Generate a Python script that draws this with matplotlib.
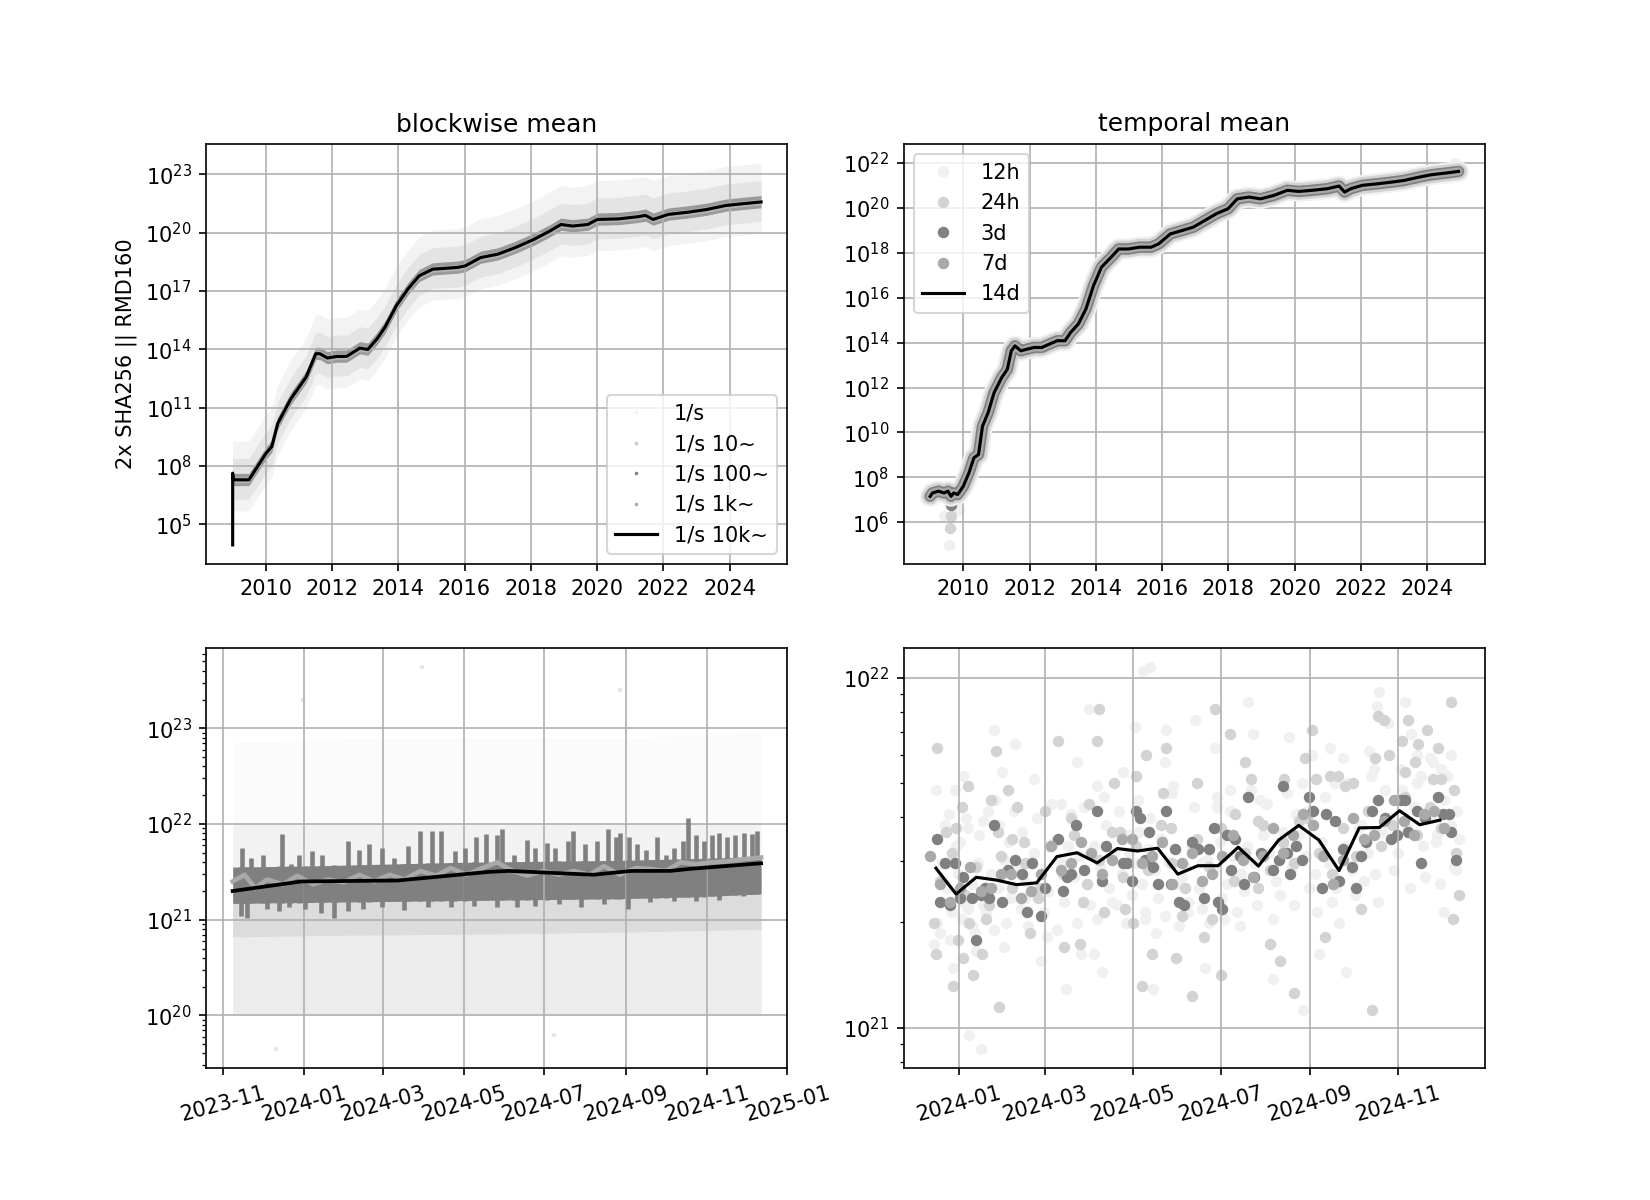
import numpy as np
import pandas as pd
import matplotlib
matplotlib.use('Agg')
import matplotlib.pyplot as plt
from matplotlib.lines import Line2D
from datetime import datetime, timedelta

# ---- top left: blockwise mean, 1/s 10k~ track (decimal year, log10 value)
tl_year = [2009.0, 2009.0, 2009.02, 2009.49, 2010.01, 2010.18, 2010.36, 2010.76, 2011.22, 2011.51,
           2011.63, 2011.86, 2012.15, 2012.44, 2012.84, 2013.08, 2013.36, 2013.6, 2013.94, 2014.29,
           2014.63, 2015.04, 2015.79, 2016.02, 2016.49, 2017.0, 2017.53, 2018.1, 2018.57, 2018.91,
           2019.26, 2019.72, 2020.01, 2020.65, 2021.23, 2021.46, 2021.69, 2022.15, 2022.73, 2023.3,
           2023.89, 2024.46, 2024.95]
tl_exp = [3.93, 7.62, 7.28, 7.28, 8.65, 8.99, 10.18, 11.46, 12.57, 13.77,
          13.77, 13.55, 13.63, 13.63, 14.06, 13.99, 14.54, 15.14, 16.24, 17.1,
          17.78, 18.12, 18.21, 18.29, 18.72, 18.89, 19.23, 19.66, 20.08, 20.42,
          20.34, 20.42, 20.68, 20.71, 20.82, 20.89, 20.68, 20.94, 21.05, 21.19,
          21.4, 21.5, 21.58]
# spread of the finer windows around the track (decades below, above)
tl_spread_1s = [1.6, 2.0]
tl_spread_10 = [1.0, 1.1]
tl_spread_100 = [0.3, 0.33]
tl_spread_1k = [0.15, 0.15]

# ---- top right: temporal mean, 14d track
tr_year = [2009.0, 2009.07, 2009.25, 2009.42, 2009.54, 2009.63, 2009.71, 2009.83, 2010.0, 2010.17,
           2010.32, 2010.46, 2010.58, 2010.75, 2010.93, 2011.16, 2011.33, 2011.45, 2011.56, 2011.74,
           2011.91, 2012.14, 2012.37, 2012.6, 2012.84, 2013.07, 2013.24, 2013.47, 2013.7, 2013.93,
           2014.17, 2014.46, 2014.69, 2014.98, 2015.32, 2015.67, 2015.9, 2016.25, 2016.6, 2016.94,
           2017.29, 2017.64, 2017.99, 2018.27, 2018.62, 2018.97, 2019.37, 2019.78, 2020.13, 2020.53,
           2020.99, 2021.34, 2021.51, 2021.69, 2022.04, 2022.5, 2022.96, 2023.31, 2023.77, 2024.12,
           2024.58, 2024.95]
tr_exp = [7.16, 7.31, 7.39, 7.31, 7.39, 7.16, 7.31, 7.24, 7.61, 8.2,
          8.87, 9.02, 10.28, 10.88, 11.77, 12.44, 12.81, 13.63, 13.85, 13.63,
          13.7, 13.78, 13.78, 13.93, 14.08, 14.08, 14.45, 14.82, 15.49, 16.53,
          17.35, 17.79, 18.16, 18.16, 18.24, 18.24, 18.39, 18.83, 18.98, 19.13,
          19.43, 19.73, 19.95, 20.39, 20.47, 20.39, 20.54, 20.77, 20.72, 20.77,
          20.84, 20.96, 20.69, 20.84, 20.99, 21.06, 21.14, 21.21, 21.36, 21.46,
          21.54, 21.61]
# single dots that leave the band
tr_12h_out_year = [2009.57, 2009.42, 2009.88, 2024.85]
tr_12h_out_exp = [5.0, 6.27, 6.57, 21.98]
tr_24h_out_year = [2009.59, 2009.63]
tr_24h_out_exp = [5.75, 6.27]
tr_3d_out_year = [2009.63]
tr_3d_out_exp = [6.79]

# ---- bottom left: blockwise, last year (days after 2023-11-01)
bl_10k_day = [7, 59, 132, 201, 216, 280, 309, 338, 352, 407]
bl_10k_exp = [21.30, 21.40, 21.41, 21.50, 21.51, 21.47, 21.51, 21.51, 21.53, 21.59]
bl_1k_day = [7, 16, 24, 33, 45, 56, 68, 79, 91, 103, 114, 126, 137, 149, 161, 172, 184, 196,
             207, 219, 230, 242, 254, 265, 277, 288, 300, 312, 323, 335, 346, 358, 370, 381, 393, 407]
bl_1k_exp = [21.40, 21.47, 21.33, 21.42, 21.37, 21.46, 21.37, 21.42, 21.39, 21.47, 21.40, 21.47,
             21.42, 21.51, 21.46, 21.54, 21.47, 21.54, 21.60, 21.51, 21.46, 21.51, 21.47, 21.51,
             21.47, 21.56, 21.47, 21.54, 21.53, 21.51, 21.60, 21.58, 21.60, 21.61, 21.63, 21.65]
# core of the 1/s 100~ band
bl_100_day = [7, 60, 120, 180, 240, 300, 360, 407]
bl_100_lo = [21.17, 21.18, 21.19, 21.20, 21.21, 21.22, 21.24, 21.27]
bl_100_hi = [21.55, 21.56, 21.58, 21.60, 21.61, 21.62, 21.64, 21.66]
# upward spikes of 1/s 100~
bl_spike_day = [14, 21, 30, 44, 51, 57, 67, 75, 85, 94, 103, 110, 120, 129, 140, 149, 158, 165,
                175, 183, 191, 199, 207, 211, 220, 230, 236, 245, 251, 261, 265, 274, 283, 291,
                297, 300, 307, 313, 320, 328, 335, 341, 348, 352, 358, 364, 370, 375, 381, 387,
                394, 400, 404]
bl_spike_exp = [21.75, 21.65, 21.68, 21.90, 21.58, 21.68, 21.72, 21.68, 21.54, 21.82, 21.73, 21.79,
                21.75, 21.65, 21.77, 21.93, 21.93, 21.93, 21.72, 21.75, 21.86, 21.90, 21.89, 21.95,
                21.68, 21.83, 21.75, 21.80, 21.75, 21.82, 21.93, 21.79, 21.82, 21.95, 21.86, 21.91,
                21.86, 21.79, 21.73, 21.86, 21.68, 21.75, 21.82, 22.06, 21.89, 21.82, 21.89, 21.91,
                21.86, 21.89, 21.91, 21.90, 21.93]
# downward spikes of 1/s 100~
bl_dip_day = [13, 18, 33, 42, 50, 62, 74, 84, 94, 106, 120, 137, 155, 172, 190, 207, 222, 236,
              254, 271, 288, 306, 323, 341, 358, 375, 393]
bl_dip_exp = [21.04, 21.02, 21.11, 21.09, 21.13, 21.11, 21.07, 21.02, 21.09, 21.11, 21.13, 21.10,
              21.13, 21.13, 21.14, 21.13, 21.13, 21.14, 21.16, 21.13, 21.16, 21.11, 21.18, 21.20,
              21.20, 21.21, 21.25]
# 1/s and 1/s 10~ clouds (lower, upper edge)
bl_cloud_day = [7, 100, 200, 300, 407]
bl_1s_lo = [20.0, 20.0, 20.0, 20.0, 20.0]
bl_1s_mid = [21.3, 21.32, 21.35, 21.38, 21.42]
bl_1s_hi = [22.0, 22.0, 22.0, 22.0, 22.0]
bl_1s_sparse_hi = [22.85, 22.9, 22.9, 22.9, 22.95]
bl_10_lo = [20.82, 20.84, 20.85, 20.87, 20.9]
bl_10_hi = [21.4, 21.42, 21.45, 21.48, 21.52]
bl_out_day = [150, 60, 300, 40, 250]
bl_out_exp = [23.64, 23.3, 23.4, 19.65, 19.8]

# ---- bottom right: temporal, last year (days after 2024-01-01)
br_14d_day = [-16, -2, 12, 26, 40, 54, 68, 82, 96, 110, 124, 138, 152, 166, 180, 194, 208,
              222, 236, 250, 264, 278, 292, 306, 320, 334]
br_14d_exp = [21.456, 21.382, 21.430, 21.422, 21.409, 21.414, 21.489, 21.500, 21.471, 21.512,
              21.505, 21.513, 21.439, 21.463, 21.463, 21.516, 21.462, 21.536, 21.578, 21.536,
              21.449, 21.571, 21.572, 21.620, 21.580, 21.593]
br_7d_day = [-20, -13, -6, 1, 8, 15, 22, 29, 36, 43, 50, 57, 64, 71, 78, 85, 92, 99, 106, 113,
             120, 127, 134, 141, 148, 155, 162, 169, 176, 183, 190, 197, 204, 211, 218, 225, 232,
             239, 246, 253, 260, 267, 274, 281, 288, 295, 302, 309, 316, 323, 330, 337]
br_7d_exp = [21.49, 21.41, 21.36, 21.40, 21.46, 21.39, 21.40, 21.44, 21.44, 21.37, 21.39, 21.44,
             21.52, 21.45, 21.47, 21.53, 21.50, 21.44, 21.48, 21.54, 21.54, 21.47, 21.49, 21.53,
             21.41, 21.47, 21.50, 21.42, 21.44, 21.49, 21.55, 21.48, 21.43, 21.49, 21.57, 21.50,
             21.55, 21.61, 21.58, 21.49, 21.41, 21.48, 21.60, 21.54, 21.55, 21.59, 21.65, 21.59,
             21.55, 21.61, 21.62, 21.57]
br_3d_day = [-15, -10, -13, -6, -3, 1, 3, 9, 12, 15, 18, 21, 24, 30, 34, 39, 44, 47, 51, 57,
             60, 69, 72, 75, 78, 81, 87, 96, 99, 102, 114, 117, 120, 123, 126, 129, 132, 135,
             138, 144, 147, 150, 153, 156, 162, 166, 170, 174, 177, 180, 183, 186, 189, 192, 195,
             198, 201, 205, 210, 218, 222, 225, 228, 230, 234, 238, 243, 246, 252, 255, 261, 264,
             267, 273, 276, 279, 283, 287, 291, 296, 300, 304, 307, 310, 312, 318, 321, 324, 333,
             336, 340, 342, 345]
br_3d_exp = [21.54, 21.47, 21.36, 21.35, 21.47, 21.37, 21.43, 21.37, 21.25, 21.38, 21.40, 21.37,
             21.58, 21.36, 21.45, 21.48, 21.44, 21.33, 21.47, 21.32, 21.40, 21.54, 21.39, 21.43,
             21.44, 21.58, 21.45, 21.62, 21.42, 21.52, 21.47, 21.47, 21.42, 21.62, 21.60, 21.48,
             21.56, 21.46, 21.41, 21.62, 21.41, 21.51, 21.36, 21.35, 21.53, 21.51, 21.37, 21.51,
             21.57, 21.36, 21.34, 21.55, 21.45, 21.54, 21.49, 21.41, 21.66, 21.43, 21.50, 21.45,
             21.48, 21.69, 21.50, 21.44, 21.52, 21.48, 21.66, 21.62, 21.40, 21.61, 21.59, 21.42,
             21.51, 21.46, 21.40, 21.49, 21.53, 21.62, 21.65, 21.60, 21.54, 21.55, 21.65, 21.65,
             21.56, 21.62, 21.47, 21.60, 21.66, 21.61, 21.61, 21.56, 21.48]
br_24h_day = [-15, -17, -16, -9, -4, -2, 2, 6, 3, -1, 7, 10, 16, 19, 22, 26, 27, 28, 34, 37,
              40, 45, 49, 56, 60, 69, 73, 78, 84, 86, 90, 96, 97, 101, 108, 112, 115, 121, 123,
              127, 130, 134, 142, 144, 147, 151, 155, 162, 165, 170, 176, 178, 182, 188, 192, 199,
              203, 208, 211, 216, 223, 226, 233, 236, 240, 245, 248, 254, 258, 263, 268, 274, 279,
              287, 289, 291, 295, 299, 308, 310, 312, 317, 319, 325, 329, 333, 335, 342, 343, 347,
              345]
br_24h_exp = [21.80, 21.30, 21.21, 21.56, 21.12, 21.57, 21.63, 21.69, 21.20, 21.25, 21.30, 21.15,
              21.21, 21.31, 21.65, 21.79, 21.56, 21.06, 21.68, 21.54, 21.63, 21.53, 21.27, 21.40,
              21.62, 21.82, 21.23, 21.60, 21.24, 21.36, 21.64, 21.82, 21.91, 21.33, 21.70, 21.56,
              21.34, 21.30, 21.72, 21.12, 21.78, 21.21, 21.67, 21.80, 21.57, 21.20, 21.32, 21.09,
              21.70, 21.26, 21.31, 21.91, 21.15, 21.84, 21.61, 21.76, 21.71, 21.40, 21.58, 21.24,
              21.19, 21.71, 21.10, 21.59, 21.77, 21.85, 21.71, 21.26, 21.72, 21.72, 21.69, 21.70,
              21.34, 21.05, 21.77, 21.89, 21.88, 21.78, 21.82, 21.73, 21.88, 21.76, 21.81, 21.85,
              21.71, 21.80, 21.71, 21.93, 21.31, 21.38, 21.50]
br_24h_mid_day = [-13, -5, 4, 12, 21, 29, 37, 46, 55, 63, 72, 80, 89, 97, 106, 114, 123, 131,
                  140, 148, 157, 165, 174, 182, 191, 199, 208, 216, 225, 233, 242, 250, 259, 267,
                  276, 284, 293, 301, 310, 318, 327, 335, 344]
br_24h_mid_exp = [21.42, 21.50, 21.38, 21.46, 21.35, 21.49, 21.40, 21.47, 21.37, 21.52, 21.44,
                  21.55, 21.41, 21.48, 21.56, 21.43, 21.52, 21.45, 21.58, 21.47, 21.40, 21.54,
                  21.46, 21.57, 21.42, 21.50, 21.59, 21.45, 21.53, 21.47, 21.60, 21.50, 21.44,
                  21.57, 21.49, 21.62, 21.52, 21.58, 21.66, 21.55, 21.63, 21.57, 21.68]
br_12h_day = [-16, -17, -13, -7, -3, 3, 1, 6, -4, 6, 9, 12, 17, 20, 24, 25, 30, 31, 35, 39,
              44, 46, 52, 57, 61, 71, 74, 82, 85, 90, 94, 96, 99, 102, 110, 114, 118, 122, 125,
              129, 135, 137, 143, 144, 149, 155, 159, 164, 169, 171, 178, 179, 184, 188, 195, 201,
              204, 209, 214, 218, 225, 229, 234, 239, 242, 245, 250, 258, 261, 267, 269, 278, 285,
              288, 290, 292, 298, 303, 308, 310, 314, 318, 321, 327, 331, 335, 337, 342, 345, 347,
              128, 133, 7, 15]
br_12h_exp = [21.68, 21.24, 21.27, 21.61, 21.68, 21.72, 21.53, 21.57, 21.17, 21.34, 21.29, 21.22,
              21.59, 21.62, 21.85, 21.65, 21.73, 21.23, 21.53, 21.81, 21.56, 21.37, 21.71, 21.19,
              21.26, 21.64, 21.11, 21.76, 21.21, 21.91, 21.21, 21.69, 21.16, 21.58, 21.35, 21.73,
              21.50, 21.86, 21.56, 21.31, 21.11, 21.27, 21.76, 21.85, 21.69, 21.43, 21.33, 21.88,
              21.47, 21.17, 21.80, 21.63, 21.31, 21.68, 21.29, 21.93, 21.84, 21.65, 21.64, 21.14,
              21.56, 21.83, 21.61, 21.05, 21.62, 21.78, 21.21, 21.80, 21.70, 21.77, 21.16, 21.57,
              21.79, 21.74, 21.92, 21.96, 21.87, 21.65, 21.68, 21.93, 21.84, 21.78, 21.72, 21.77,
              21.53, 21.74, 21.33, 21.78, 21.45, 21.54, 22.02, 22.03, 20.98, 20.94]
# 12h dots sitting in the middle of the cloud
br_12h_mid_day = [-12, -8, -5, -1, 3, 9, 13, 17, 22, 27, 31, 36, 41, 46, 52, 57, 62, 66, 71, 76,
                  80, 84, 89, 94, 98, 104, 108, 113, 118, 122, 127, 131, 136, 140, 146, 151, 157,
                  161, 167, 172, 177, 181, 186, 190, 196, 200, 205, 211, 215, 220, 226, 231, 236,
                  241, 247, 252, 257, 262, 268, 273, 279, 284, 289, 294, 300, 305, 311, 316, 322,
                  327, 332, 337, 342, 346]
br_12h_mid_exp = [21.47, 21.40, 21.33, 21.44, 21.36, 21.41, 21.47, 21.35, 21.44, 21.40, 21.48,
                  21.37, 21.45, 21.42, 21.50, 21.44, 21.39, 21.53, 21.47, 21.52, 21.43, 21.49,
                  21.41, 21.52, 21.46, 21.40, 21.50, 21.44, 21.55, 21.47, 21.41, 21.51, 21.45,
                  21.54, 21.47, 21.41, 21.46, 21.52, 21.40, 21.48, 21.45, 21.53, 21.41, 21.49,
                  21.44, 21.52, 21.47, 21.55, 21.50, 21.42, 21.52, 21.46, 21.55, 21.49, 21.44,
                  21.53, 21.47, 21.40, 21.52, 21.45, 21.58, 21.50, 21.44, 21.56, 21.60, 21.50,
                  21.57, 21.63, 21.52, 21.60, 21.55, 21.65, 21.58, 21.62]
br_12h_mid2_day = [-15, -10, -6, -2, 2, 5, 11, 14, 19, 24, 28, 33, 38, 43, 48, 54, 59, 64, 68,
                   73, 78, 82, 87, 91, 96, 101, 106, 111, 116, 120, 124, 129, 133, 138, 143, 148,
                   153, 159, 163, 169, 174, 179, 183, 188, 193, 198, 203, 207, 213, 218, 223, 228,
                   233, 238, 243, 249, 254, 259, 264, 270, 275, 281, 286, 291, 296, 302, 307, 313,
                   318, 324, 329, 334, 339, 344]
br_12h_mid2_exp = [21.30, 21.58, 21.25, 21.52, 21.31, 21.60, 21.27, 21.55, 21.33, 21.28, 21.58,
                   21.30, 21.62, 21.34, 21.29, 21.60, 21.33, 21.64, 21.28, 21.36, 21.61, 21.30,
                   21.63, 21.35, 21.31, 21.66, 21.36, 21.62, 21.30, 21.38, 21.65, 21.33, 21.60,
                   21.37, 21.32, 21.67, 21.29, 21.36, 21.63, 21.34, 21.30, 21.66, 21.37, 21.62,
                   21.33, 21.39, 21.68, 21.35, 21.64, 21.31, 21.38, 21.67, 21.35, 21.70, 21.40,
                   21.33, 21.66, 21.36, 21.30, 21.70, 21.38, 21.42, 21.72, 21.36, 21.68, 21.45,
                   21.74, 21.40, 21.70, 21.43, 21.76, 21.41, 21.72, 21.46]

c12 = '#f0f0f0'
c24 = 'lightgray'
c3d = 'gray'
c7d = 'darkgray'


def yr2dt(years):
    out = []
    for y in years:
        base = datetime(int(y), 1, 1)
        out.append(base + timedelta(days=(y - int(y)) * 365.25))
    return out


def days2dt(base, days):
    return pd.Timestamp(base) + pd.to_timedelta(np.array(days, dtype=float), unit='D')


def p10(e):
    return 10.0 ** np.asarray(e, dtype=float)


fig, axes = plt.subplots(2, 2, figsize=(11, 8))

# top left
ax = axes[0, 0]
d = yr2dt(tl_year)
e = np.array(tl_exp[1:])
db = d[1:]
for sp, c in [(tl_spread_1s, '#f3f3f3'), (tl_spread_10, '#e4e4e4'),
              (tl_spread_100, '#9a9a9a'), (tl_spread_1k, '#b5b5b5')]:
    ax.fill_between(db, p10(e - sp[0]), p10(e + sp[1]), color=c, lw=0)
ax.plot(d, p10(tl_exp), color='k', lw=1.5)
ax.set_yscale('log')
ax.grid(True)
ax.set_title('blockwise mean')
ax.set_ylabel('2x SHA256 || RMD160')
h = [Line2D([], [], ls='none', marker='o', ms=0.7, color=c) for c in ['#f0f0f0', '#c8c8c8', 'gray', 'darkgray']]
h.append(Line2D([], [], color='k', lw=1.5))
ax.legend(h, ['1/s', '1/s 10~', '1/s 100~', '1/s 1k~', '1/s 10k~'], loc='lower right')

# top right
ax = axes[0, 1]
d = yr2dt(tr_year)
y = p10(tr_exp)
ax.plot(d, y, color=c12, lw=10, solid_capstyle='round')
ax.plot(d, y, color=c24, lw=8, solid_capstyle='round')
ax.plot(d, y, color=c3d, lw=5.5, solid_capstyle='round')
ax.plot(d, y, color=c7d, lw=3.8, solid_capstyle='round')
ax.scatter(yr2dt(tr_12h_out_year), p10(tr_12h_out_exp), color=c12, s=20)
ax.scatter(yr2dt(tr_24h_out_year), p10(tr_24h_out_exp), color=c24, s=20)
ax.scatter(yr2dt(tr_3d_out_year), p10(tr_3d_out_exp), color=c3d, s=20)
ax.plot(d, y, color='k', lw=1.5)
ax.set_yscale('log')
ax.grid(True)
ax.set_title('temporal mean')
h = [Line2D([], [], ls='none', marker='o', ms=4.5, color=c) for c in [c12, c24, c3d, c7d]]
h.append(Line2D([], [], color='k', lw=1.5))
ax.legend(h, ['12h', '24h', '3d', '7d', '14d'], loc='upper left')

# bottom left
ax = axes[1, 0]
base = '2023-11-01'
dc = days2dt(base, bl_cloud_day)
ax.fill_between(dc, p10(bl_1s_hi), p10(bl_1s_sparse_hi), color='#fbfbfb', lw=0)
ax.fill_between(dc, p10(bl_1s_mid), p10(bl_1s_hi), color='#f2f2f2', lw=0)
ax.fill_between(dc, p10(bl_1s_lo), p10(bl_1s_mid), color='#ececec', lw=0)
ax.fill_between(dc, p10(bl_10_lo), p10(bl_10_hi), color='#dcdcdc', lw=0)
ax.scatter(days2dt(base, bl_out_day), p10(bl_out_exp), color='#e6e6e6', marker=',', s=1)
db = days2dt(base, bl_100_day)
ax.fill_between(db, p10(bl_100_lo), p10(bl_100_hi), color='gray', lw=0)
ax.vlines(days2dt(base, bl_spike_day), p10(np.interp(bl_spike_day, bl_100_day, bl_100_lo)),
          p10(bl_spike_exp), color='gray', lw=2.2)
ax.vlines(days2dt(base, bl_dip_day), p10(bl_dip_exp),
          p10(np.interp(bl_dip_day, bl_100_day, bl_100_hi)), color='gray', lw=2.2)
ax.plot(days2dt(base, bl_1k_day), p10(bl_1k_exp), color='darkgray', lw=2.2)
ax.plot(days2dt(base, bl_10k_day), p10(bl_10k_exp), color='k', lw=1.8)
ax.set_yscale('log')
ax.grid(True)
ax.tick_params(axis='x', labelrotation=15)

# bottom right
ax = axes[1, 1]
base = '2024-01-01'
ax.scatter(days2dt(base, br_12h_day + br_12h_mid_day + br_12h_mid2_day),
           p10(br_12h_exp + br_12h_mid_exp + br_12h_mid2_exp), color=c12, s=20)
ax.scatter(days2dt(base, br_24h_day + br_24h_mid_day), p10(br_24h_exp + br_24h_mid_exp), color=c24, s=20)
ax.scatter(days2dt(base, br_3d_day), p10(br_3d_exp), color=c3d, s=20)
ax.scatter(days2dt(base, br_7d_day), p10(br_7d_exp), color=c7d, s=20)
ax.plot(days2dt(base, br_14d_day), p10(br_14d_exp), color='k', lw=1.5)
ax.set_yscale('log')
ax.grid(True)
ax.tick_params(axis='x', labelrotation=15)

plt.savefig('out.png', dpi=150)
